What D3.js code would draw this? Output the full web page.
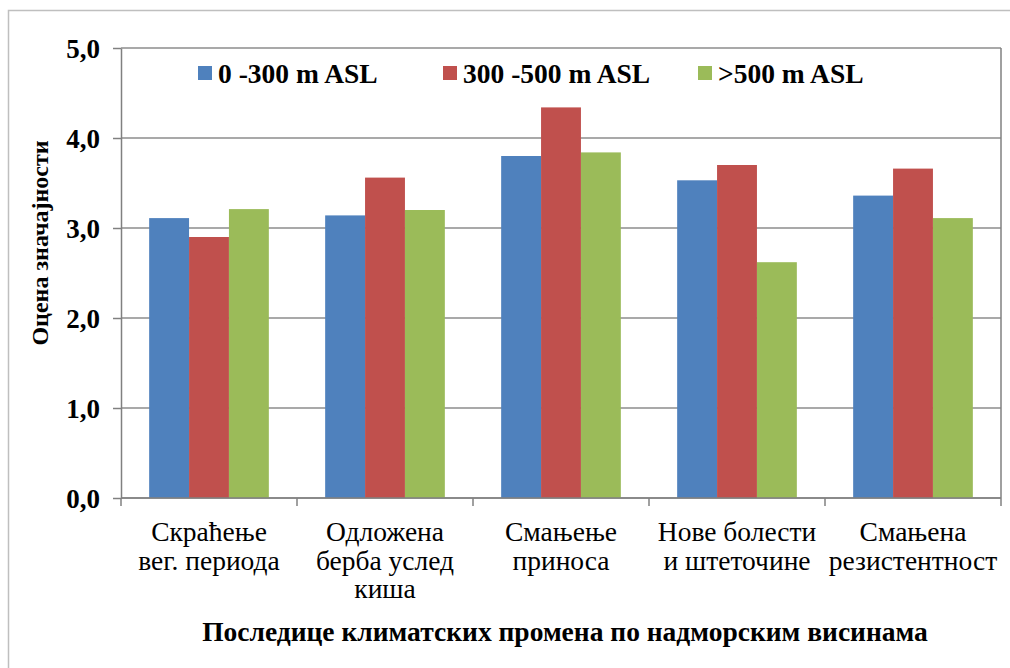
<!DOCTYPE html>
<html>
<head>
<meta charset="utf-8">
<script src="https://cdn.jsdelivr.net/npm/d3@7/dist/d3.min.js"></script>
<style>
  html, body { margin: 0; padding: 0; background: #fff; }
  svg { display: block; }
</style>
</head>
<body>
<svg id="chart" width="1010" height="668"></svg>
<script>
// Categories (multi-line labels) and the three altitude series
const categories = [
  ["Скраћење", "вег. периода"],
  ["Одложена", "берба услед", "киша"],
  ["Смањење", "приноса"],
  ["Нове болести", "и штеточине"],
  ["Смањена", "резистентност"]
];
const seriesNames = ["0 -300 m ASL", "300 -500 m ASL", ">500 m ASL"];
const lowland  = [3.11, 3.14, 3.80, 3.53, 3.36];
const midland  = [2.90, 3.56, 4.34, 3.70, 3.66];
const highland = [3.21, 3.20, 3.84, 2.62, 3.11];
const yTicks = [0, 1, 2, 3, 4, 5];
const colors = ["#4F81BD", "#C0504D", "#9BBB59"];
const yTitle = "Оцена значајности";
const xTitle = "Последице климатских промена по надморским висинама";

const series = [lowland, midland, highland];
const catKeys = categories.map(c => c.join(" "));

const svg = d3.select("#chart");
const serif = "Liberation Serif";

// Outer chart frame
svg.append("rect")
  .attr("x", 8.5).attr("y", 10.5)
  .attr("width", 1010).attr("height", 670)
  .attr("fill", "#fff").attr("stroke", "#bfbfbf").attr("stroke-width", 1.5);

const plot = { left: 121, right: 1001, top: 48, bottom: 498 };

const x = d3.scaleBand().domain(catKeys).range([plot.left, plot.right]).paddingInner(0).paddingOuter(0);
const bw = x.bandwidth();
const xs = d3.scaleBand().domain(d3.range(series.length))
  .range([bw * 0.16, bw * 0.84]).paddingInner(0);
const y = d3.scaleLinear().domain([0, 5]).range([plot.bottom, plot.top]);

// Horizontal gridlines
svg.append("g").selectAll("line").data(yTicks).join("line")
  .attr("x1", plot.left).attr("x2", plot.right)
  .attr("y1", d => y(d)).attr("y2", d => y(d))
  .attr("stroke", "#8c8c8c").attr("stroke-width", 1.5);

// Right border of plot area
svg.append("line")
  .attr("x1", plot.right).attr("x2", plot.right)
  .attr("y1", plot.top).attr("y2", plot.bottom)
  .attr("stroke", "#808080").attr("stroke-width", 1.5);

// Bars
const groups = svg.append("g").selectAll("g").data(catKeys).join("g")
  .attr("transform", d => `translate(${x(d)},0)`);
groups.selectAll("rect")
  .data((d, i) => series.map((s, k) => ({ k, v: s[i] })))
  .join("rect")
  .attr("x", d => xs(d.k))
  .attr("width", xs.bandwidth())
  .attr("y", d => y(d.v))
  .attr("height", d => y(0) - y(d.v))
  .attr("fill", d => colors[d.k]);

// Y axis
const fmt = d => d3.format(".1f")(d).replace(".", ",");
const yAxis = svg.append("g")
  .attr("transform", `translate(${plot.left},0)`)
  .call(d3.axisLeft(y).tickValues(yTicks).tickFormat(fmt).tickSizeInner(8).tickSizeOuter(0).tickPadding(13));
yAxis.attr("font-family", serif);
yAxis.select(".domain").attr("stroke", "#808080").attr("stroke-width", 1.5);
yAxis.selectAll(".tick line").attr("stroke", "#808080").attr("stroke-width", 1.5);
yAxis.selectAll(".tick text")
  .attr("font-size", 27).attr("font-weight", "bold")
  .attr("fill", "#000").attr("dy", "0.35em");

// X axis (category boundary ticks)
const xAxisG = svg.append("g").attr("transform", `translate(0,${plot.bottom})`);
xAxisG.append("line")
  .attr("x1", plot.left).attr("x2", plot.right)
  .attr("stroke", "#808080").attr("stroke-width", 1.5);
const boundaries = catKeys.map(k => x(k)).concat([plot.right]);
xAxisG.selectAll("line.tk").data(boundaries).join("line")
  .attr("class", "tk")
  .attr("x1", d => d).attr("x2", d => d)
  .attr("y1", 0).attr("y2", 8)
  .attr("stroke", "#808080").attr("stroke-width", 1.5);

// Category labels
const labels = svg.append("g").selectAll("text").data(categories).join("text")
  .attr("font-family", serif).attr("font-size", 27.5)
  .attr("fill", "#000").attr("text-anchor", "middle")
  .attr("transform", (d, i) => `translate(${x(catKeys[i]) + bw / 2},541)`);
labels.selectAll("tspan").data(d => d).join("tspan")
  .attr("x", 0).attr("y", (d, j) => j * 28.5)
  .text(d => d);

// Axis titles
svg.append("text")
  .attr("x", 565).attr("y", 641)
  .attr("text-anchor", "middle")
  .attr("font-family", serif).attr("font-size", 27.5).attr("font-weight", "bold")
  .text(xTitle);

svg.append("text")
  .attr("transform", `translate(48,243) rotate(-90)`)
  .attr("text-anchor", "middle")
  .attr("font-family", serif).attr("font-size", 24).attr("font-weight", "bold")
  .text(yTitle);

// Legend
const legendX = [198, 443, 698];
const legend = svg.append("g").selectAll("g").data(seriesNames).join("g")
  .attr("transform", (d, i) => `translate(${legendX[i]},73)`);
legend.append("rect")
  .attr("x", 0).attr("y", -7).attr("width", 14).attr("height", 14)
  .attr("fill", (d, i) => colors[i]);
legend.append("text")
  .attr("x", 20).attr("y", 0).attr("dy", "0.35em")
  .attr("font-family", serif).attr("font-size", 27.5).attr("font-weight", "bold")
  .text(d => d);
</script>
</body>
</html>
